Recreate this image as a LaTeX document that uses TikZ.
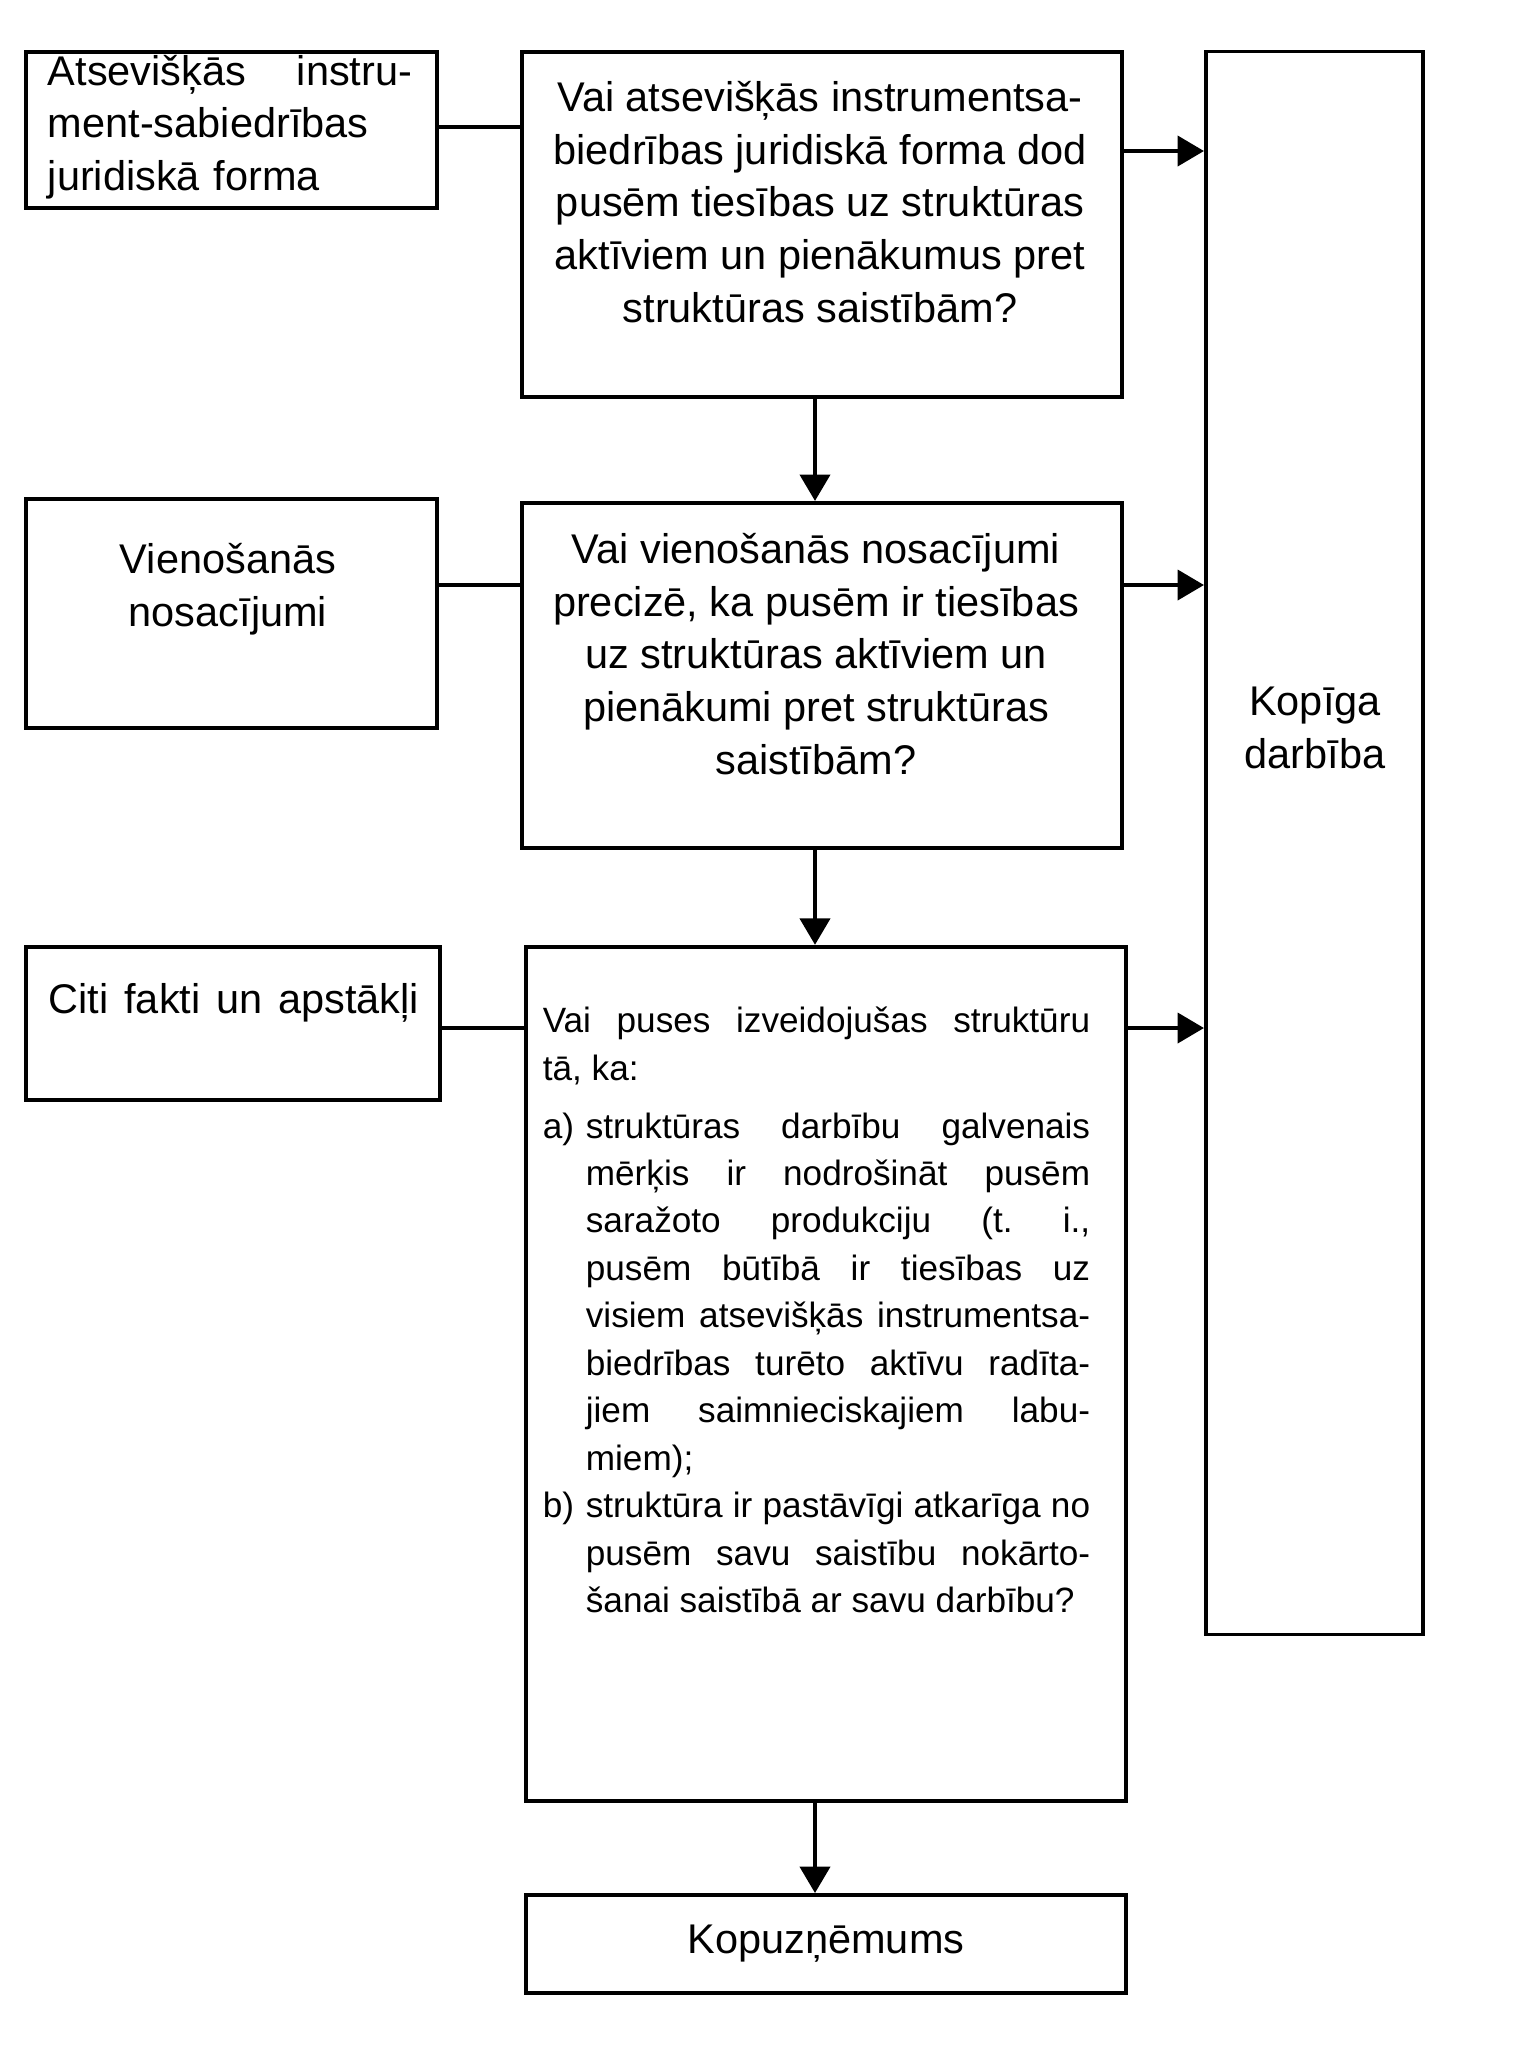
\documentclass[tikz,border=0pt]{standalone}
\usepackage{fontspec}
\setmainfont{Liberation Sans}
\usepackage{tikz}
\usetikzlibrary{arrows.meta,positioning}
\frenchspacing
\hyphenpenalty=10000

\begin{document}
\begin{tikzpicture}[x=0.01cm,y=-0.01cm,
    box/.style={draw,line width=1.1pt,inner sep=0pt},
    txt/.style={inner sep=0pt,font=\fontsize{11.8}{15}\selectfont},
    small/.style={inner sep=0pt,font=\fontsize{10}{13.5}\selectfont},
    link/.style={line width=0.9pt},
    flow/.style={line width=1.2pt,-{Triangle[length=7.5pt,width=8.5pt]}}]
  \useasboundingbox (0,0) rectangle (1540,2047);

  % left column: what is looked at
  \node[box,minimum width=4.11cm,minimum height=1.56cm] (legal) at (231.5,130) {};
  \node[box,minimum width=4.11cm,minimum height=2.29cm] (terms) at (231.5,613.5) {};
  \node[box,minimum width=4.14cm,minimum height=1.53cm] (facts) at (233,1023.5) {};

  % middle column: the questions
  \node[box,minimum width=6cm,minimum height=3.45cm] (qlegal) at (822,224.5) {};
  \node[box,minimum width=6cm,minimum height=3.45cm] (qterms) at (822,675.5) {};
  \node[box,minimum width=6cm,minimum height=8.54cm] (qfacts) at (826,1374) {};
  \node[box,txt,minimum width=6cm,minimum height=0.98cm] (venture) at (826,1944) {Kopuzņēmums};

  % right column
  \node[box,minimum width=2.17cm,minimum height=15.82cm] (joint) at (1314.5,843) {};

  % texts
  \node[txt,text width=3.64cm,align=left] (legaltxt) at (230,127)
    {Atsevišķās\hfill instru-\\ment-sabiedrības\\juridiskā forma};
  \node[txt,align=center] (termstxt) at (228,589) {Vienošanās\\nosacījumi};
  \node[txt,anchor=west] (factstxt) at (48,1003) {\makebox[3.7cm][s]{Citi fakti un apstākļi}};
  \node[txt,align=center] (qlegaltxt) at (820,202)
    {Vai atsevišķās instrumentsa-\\biedrības juridiskā forma dod\\pusēm tiesības uz struktūras\\aktīviem un pienākumus pret\\struktūras saistībām?};
  \node[txt,align=center] (qtermstxt) at (816,654)
    {Vai vienošanās nosacījumi\\precizē, ka pusēm ir tiesības\\uz struktūras aktīviem un\\pienākumi pret struktūras\\saistībām?};
  \node[small,text width=5.47cm,align=justify] (qfactstxt) at (816.5,1310)
    {\tolerance=9999
     Vai puses izveidojušas struktūru\linebreak tā, ka:\par\vspace{3pt}
     \hangindent=0.43cm\noindent\makebox[0.43cm][l]{a)}struktūras darbību galvenais\linebreak
     mērķis ir nodrošināt pusēm\linebreak saražoto produkciju (t. i.,\linebreak
     pusēm būtībā ir tiesības uz\linebreak visiem atsevišķās instrumentsa-\linebreak
     biedrības turēto aktīvu radīta-\linebreak jiem saimnieciskajiem labu-\linebreak
     miem);\par
     \hangindent=0.43cm\noindent\makebox[0.43cm][l]{b)}struktūra ir pastāvīgi atkarīga no\linebreak
     pusēm savu saistību nokārto-\linebreak šanai saistībā ar savu darbību?\par};
  \node[txt,align=center] (jointtxt) at (1315,728) {Kopīga\\darbība};

  % connector levels
  \coordinate (rowA) at (0,127);
  \coordinate (outA) at (0,151);
  \coordinate (rowB) at (0,585);
  \coordinate (rowC) at (0,1028);
  \coordinate (colx) at (815,0);

  \draw[link] (legal.east |- rowA) -- (qlegal.west |- rowA);
  \draw[link] (terms.east |- rowB) -- (qterms.west |- rowB);
  \draw[link] (facts.east |- rowC) -- (qfacts.west |- rowC);

  \draw[flow] (qlegal.east |- outA) -- (joint.west |- outA);
  \draw[flow] (qterms.east |- rowB) -- (joint.west |- rowB);
  \draw[flow] (qfacts.east |- rowC) -- (joint.west |- rowC);

  \draw[flow] (qlegal.south -| colx) -- (qterms.north -| colx);
  \draw[flow] (qterms.south -| colx) -- (qfacts.north -| colx);
  \draw[flow] (qfacts.south -| colx) -- (venture.north -| colx);
\end{tikzpicture}
\end{document}
